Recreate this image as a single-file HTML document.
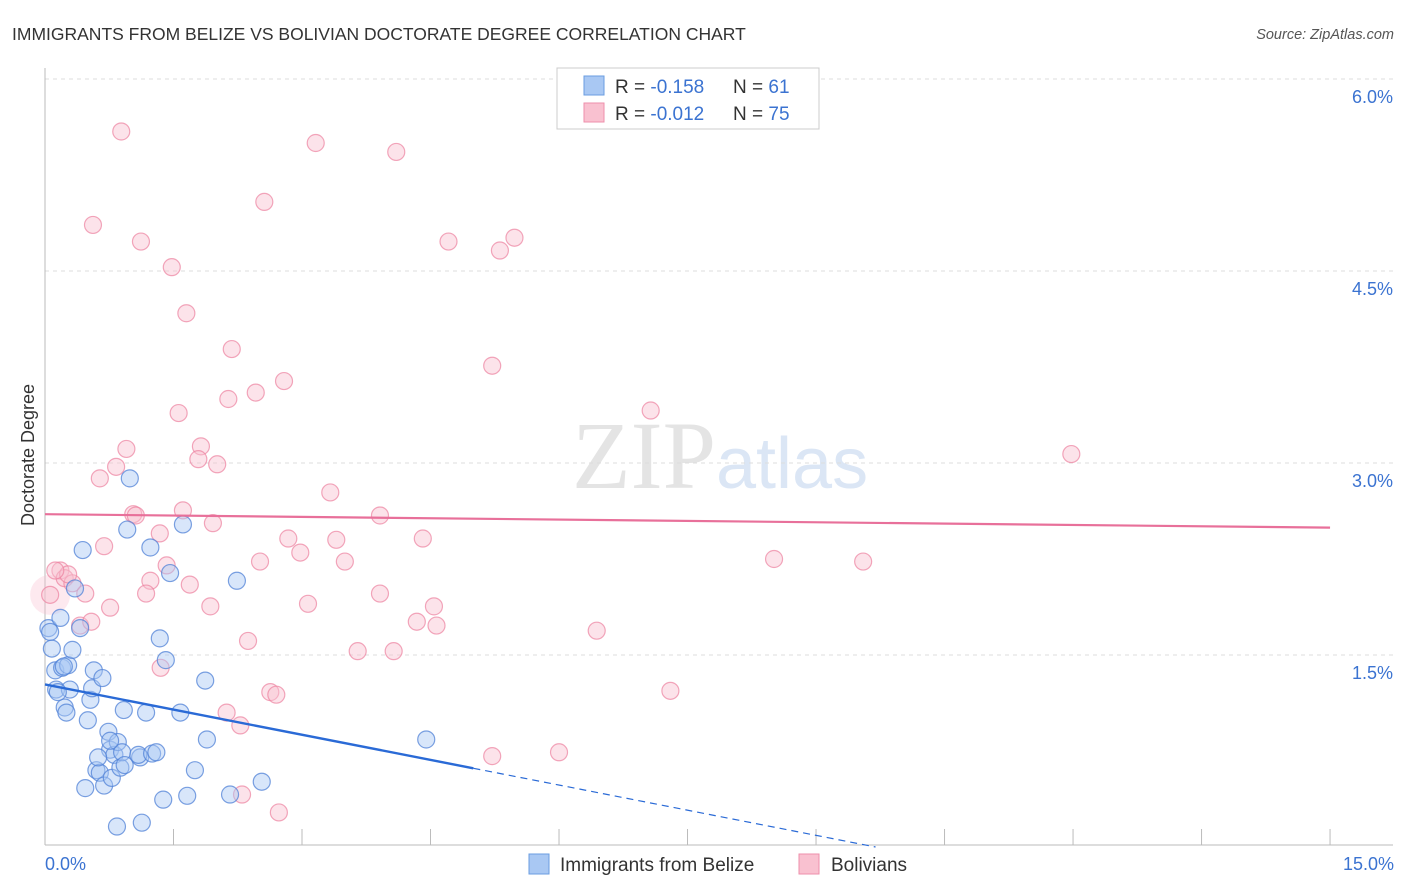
<!DOCTYPE html>
<html><head><meta charset="utf-8"><style>
body{margin:0;background:#fff;font-family:"Liberation Sans",sans-serif;}
svg{display:block}
</style></head><body>
<svg id="chart" width="1406" height="892">
<text x="12" y="40" font-size="17.5" fill="#333">IMMIGRANTS FROM BELIZE VS BOLIVIAN DOCTORATE DEGREE CORRELATION CHART</text>
<text x="1394" y="39" font-size="14.5" fill="#555" font-style="italic" text-anchor="end">Source: ZipAtlas.com</text>
<text x="716" y="488" font-size="96" fill="#e4e4e4" text-anchor="end" font-family="Liberation Serif,serif">ZIP</text>
<text x="716" y="488" font-size="72" fill="#dbe6f5">atlas</text>
<text transform="translate(34,455) rotate(-90)" font-size="18" fill="#333" text-anchor="middle">Doctorate Degree</text>
<g id="grid"></g><g id="pts"></g><g id="lines"></g>
<g>
<rect x="557" y="68" width="262" height="61" fill="#fff" stroke="#ccc"/>
<rect x="584" y="76" width="20" height="19" fill="#a9c8f3" stroke="#6a9de0"/>
<rect x="584" y="103" width="20" height="19" fill="#f9c1d0" stroke="#ee8fab"/>
<text x="615" y="93" font-size="19" fill="#333">R = <tspan fill="#3b73d1">-0.158</tspan><tspan x="733">N = </tspan><tspan fill="#3b73d1">61</tspan></text>
<text x="615" y="120" font-size="19" fill="#333">R = <tspan fill="#3b73d1">-0.012</tspan><tspan x="733">N = </tspan><tspan fill="#3b73d1">75</tspan></text>
</g>
<g>
<rect x="529" y="854" width="20" height="20" fill="#a9c8f3" stroke="#6a9de0"/>
<text x="560" y="871" font-size="19" fill="#333">Immigrants from Belize</text>
<rect x="799" y="854" width="20" height="20" fill="#f9c1d0" stroke="#ee8fab"/>
<text x="831" y="871" font-size="19" fill="#333">Bolivians</text>
</g>
<text x="45" y="870" font-size="18" fill="#3b73d1">0.0%</text>
<text x="1394" y="870" font-size="18" fill="#3b73d1" text-anchor="end">15.0%</text>
</svg>
<script>
const yTicks=[1.5,3.0,4.5,6.0];
const blueX=[0.04,0.06,0.08,0.18,0.12,0.13,0.20,0.27,0.32,0.29,0.23,0.25,0.35,0.41,0.44,0.50,0.53,0.55,0.57,0.67,0.47,0.60,0.64,0.69,0.74,0.76,0.78,0.81,0.85,0.88,0.90,0.93,0.84,0.92,0.96,0.99,1.11,1.09,1.18,1.23,1.25,1.30,1.34,1.38,1.41,1.46,1.58,1.61,1.66,1.75,1.87,1.89,2.24,2.16,2.53,1.13,4.45,0.15,0.22,0.62,0.76];
const blueY=[1.71,1.68,1.55,1.79,1.38,1.23,1.40,1.42,1.54,1.23,1.09,1.05,2.02,1.71,2.32,0.99,1.15,1.24,1.38,1.32,0.46,0.60,0.58,0.48,0.90,0.76,0.54,0.72,0.82,0.62,0.74,0.64,0.16,1.07,2.48,2.88,0.70,0.72,1.05,2.34,0.73,0.74,1.63,0.37,1.46,2.14,1.05,2.52,0.40,0.60,1.30,0.84,2.08,0.41,0.51,0.19,0.84,1.21,1.41,0.70,0.83];
const pinkX=[0.89,0.56,1.12,1.48,1.65,2.18,2.56,3.16,4.10,4.71,5.31,5.48,5.22,7.07,11.98,1.56,2.14,2.46,2.79,0.95,1.82,1.79,2.01,0.83,0.64,1.61,1.96,1.03,1.06,0.69,1.34,3.33,3.91,2.84,3.40,4.41,2.98,2.51,3.50,1.42,1.23,1.69,1.18,3.91,0.76,1.93,3.07,4.54,0.18,0.23,0.32,0.27,0.12,0.47,0.41,0.54,2.37,3.65,4.07,4.34,4.57,6.44,1.35,8.51,9.55,2.12,2.28,2.63,2.70,7.30,5.22,6.00,2.30,2.73,0.06];
const pinkY=[5.59,4.86,4.73,4.53,4.17,3.89,5.04,5.50,5.43,4.73,4.66,4.76,3.76,3.41,3.07,3.39,3.50,3.55,3.64,3.11,3.13,3.03,2.99,2.97,2.88,2.63,2.53,2.60,2.59,2.35,2.45,2.77,2.59,2.41,2.40,2.41,2.30,2.23,2.23,2.20,2.08,2.05,1.98,1.98,1.87,1.88,1.90,1.88,2.16,2.10,2.06,2.13,2.16,1.98,1.73,1.76,1.61,1.53,1.53,1.76,1.73,1.69,1.40,2.25,2.23,1.05,0.95,1.21,1.19,1.22,0.71,0.74,0.41,0.27,1.97];
const blueTrend=[1.27,-0.131];
const pinkTrend=[2.60,-0.007];
const sx=v=>45+v*85.67, sy=v=>847-v*128;
const NS='http://www.w3.org/2000/svg';
function mk(p,tag,a){const e=document.createElementNS(NS,tag);for(const k in a)e.setAttribute(k,a[k]);p.appendChild(e);return e;}
const grid=document.getElementById('grid');
yTicks.forEach(t=>{
 const l=mk(grid,'line',{x1:45,x2:1393,y1:sy(t),y2:sy(t),stroke:'#ddd','stroke-dasharray':'4,4'});
 
 
 const tx=mk(grid,'text',{x:1393,y:sy(t)+24,'font-size':18,fill:'#3b73d1','text-anchor':'end'});
 tx.textContent=t.toFixed(1)+'%';
 
 
});
mk(grid,'line',{x1:45,x2:45,y1:68,y2:845,stroke:'#bbb'});
mk(grid,'line',{x1:45,x2:1393,y1:845,y2:845,stroke:'#bbb'});
for(let i=1;i<=10;i++){const tk=mk(grid,'line',{x1:sx(i*1.5),x2:sx(i*1.5),y1:829,y2:845,stroke:'#bbb'});
 
 }
const pts=document.getElementById('pts');
const big=mk(pts,'circle',{cx:sx(0.06),cy:sy(1.97),r:20,fill:'rgba(249,193,208,0.35)',stroke:'none'});


pinkX.forEach((x,i)=>{const c=mk(pts,'circle',{cx:sx(x),cy:sy(pinkY[i]),r:8.5,fill:'rgba(249,193,208,0.45)',stroke:'rgba(236,130,160,0.7)','stroke-width':1.2});
 
 });
blueX.forEach((x,i)=>{const c=mk(pts,'circle',{cx:sx(x),cy:sy(blueY[i]),r:8.5,fill:'rgba(169,200,243,0.45)',stroke:'rgba(80,130,215,0.75)','stroke-width':1.2});
 
 });
const lines=document.getElementById('lines');
const pl=mk(lines,'line',{x1:sx(0),y1:sy(pinkTrend[0]),x2:sx(15),y2:sy(pinkTrend[0]+15*pinkTrend[1]),stroke:'#e8709a','stroke-width':2.2});


const xEnd=5.0, xZero=-blueTrend[0]/blueTrend[1];
const bl=mk(lines,'line',{x1:sx(0),y1:sy(blueTrend[0]),x2:sx(xEnd),y2:sy(blueTrend[0]+xEnd*blueTrend[1]),stroke:'#2a6ad6','stroke-width':2.4});


const bd=mk(lines,'line',{x1:sx(xEnd),y1:sy(blueTrend[0]+xEnd*blueTrend[1]),x2:sx(xZero),y2:sy(0),stroke:'#2a6ad6','stroke-width':1.2,'stroke-dasharray':'7,5'});


</script>
</body></html>
